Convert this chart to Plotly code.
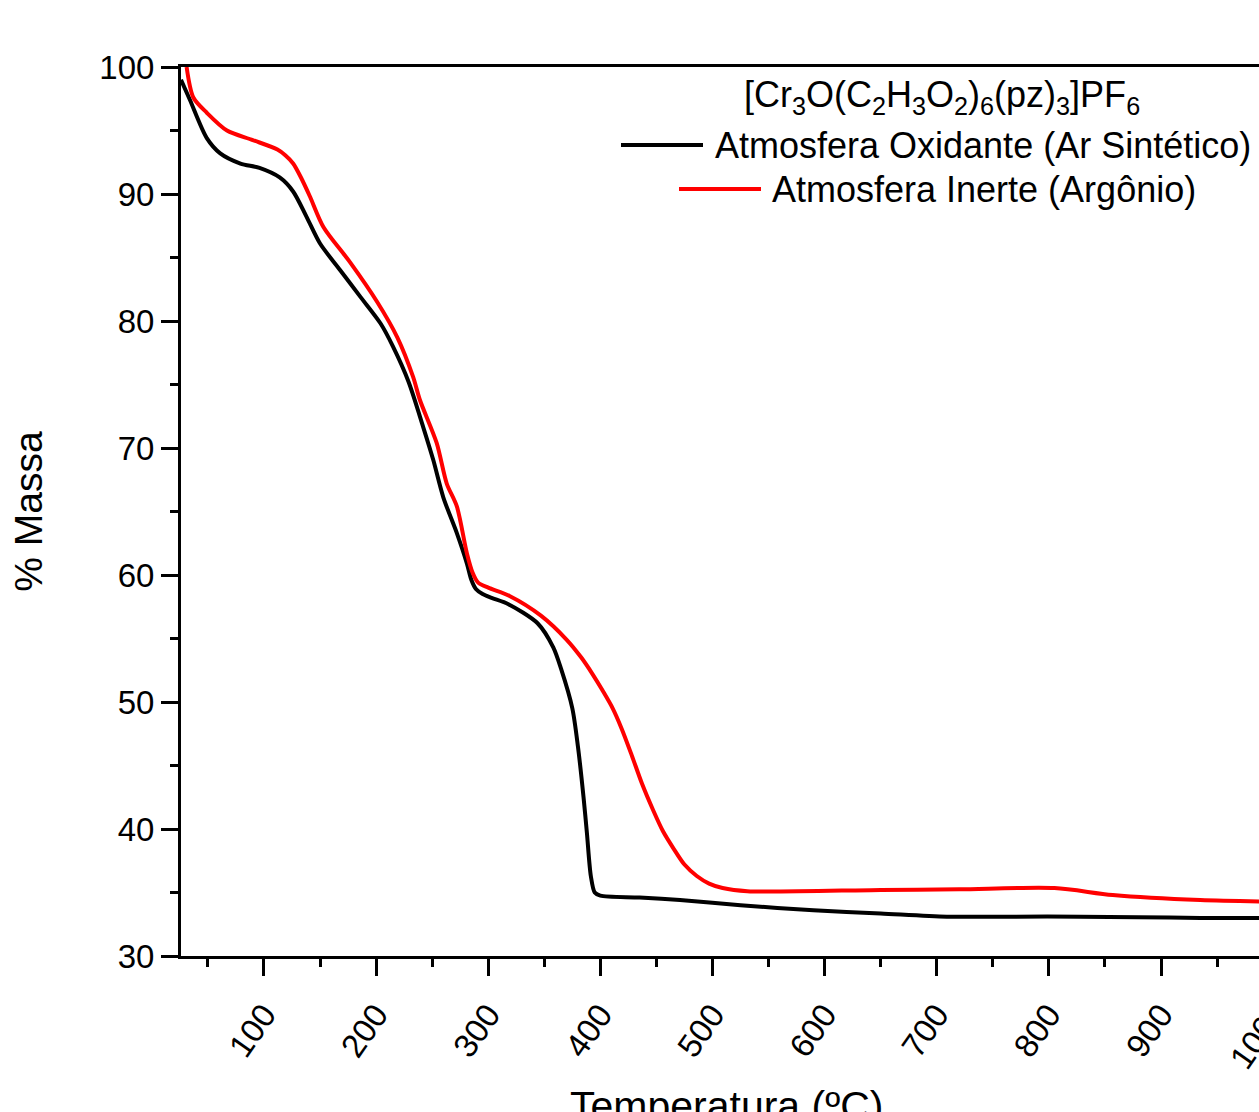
import plotly.graph_objects as go

# ---- data ----
temp_oxidante = [26, 34, 49, 61, 79, 96, 114, 126, 138, 150, 168, 186, 204, 215, 229,
                 242, 251, 260, 272, 281, 285, 289, 295, 303, 318, 344, 358, 365, 375,
                 380, 385, 388, 391.5, 395, 400, 435, 471, 525, 590, 650, 709, 770, 828,
                 880, 935, 988]
mass_oxidante = [99.0, 97.4, 94.4, 93.2, 92.4, 92.05, 91.3, 90.2, 88.2, 86.1, 84.0, 81.9,
                 79.8, 78.0, 75.2, 71.65, 69.05, 66.1, 63.3, 60.9, 59.6, 58.9, 58.5, 58.2,
                 57.7, 56.2, 54.3, 52.6, 49.5, 46.5, 42.5, 39.7, 36.3, 35.0, 34.75, 34.6,
                 34.4, 34.0, 33.6, 33.35, 33.1, 33.1, 33.1, 33.05, 33.0, 33.0]

temp_inerte = [31, 37, 49, 67, 90, 112, 119, 126, 133, 141, 153, 177, 201, 219, 233, 239,
               254, 263, 272, 281, 286, 291, 300, 319, 347, 370, 383, 393, 402, 411, 419,
               428, 437, 447, 456, 465, 475, 486, 497, 509, 531, 650, 720, 805, 857, 935,
               988]
mass_inerte = [100.0, 97.6, 96.4, 95.0, 94.25, 93.5, 93.05, 92.4, 91.3, 89.8, 87.4, 84.6,
               81.5, 78.7, 75.6, 73.8, 70.4, 67.2, 65.4, 61.7, 60.2, 59.4, 59.0, 58.35,
               56.8, 54.9, 53.5, 52.2, 50.9, 49.5, 47.9, 45.8, 43.6, 41.5, 39.8, 38.5,
               37.2, 36.3, 35.7, 35.35, 35.1, 35.2, 35.25, 35.35, 34.8, 34.4, 34.3]

series_names = ["Atmosfera Oxidante (Ar Sintético)", "Atmosfera Inerte (Argônio)"]
series_colors = ["#000000", "#ff0000"]
legend_title = ("[Cr<sub>3</sub>O(C<sub>2</sub>H<sub>3</sub>O<sub>2</sub>)<sub>6</sub>"
                "(pz)<sub>3</sub>]PF<sub>6</sub>")
x_title = "Temperatura (ºC)"
y_title = "% Massa"
extra_tick_label = "1000"

FONT = "Liberation Sans, Arial, sans-serif"

W, H = 1259, 1112
L, R, T, B = 181, 0, 67, 156
PW, PH = W - L - R, H - T - B


def px(x):
    return (x - L) / PW


def py(y):
    return (H - B - y) / PH


fig = go.Figure()
for t, m, name, col in [(temp_oxidante, mass_oxidante, series_names[0], series_colors[0]),
                        (temp_inerte, mass_inerte, series_names[1], series_colors[1])]:
    fig.add_trace(go.Scatter(x=t, y=m, mode="lines", name=name, showlegend=False,
                             line=dict(color=col, width=4, shape="spline", smoothing=0.8)))

fig.update_layout(
    width=W, height=H,
    margin=dict(l=L, r=R, t=T, b=B, autoexpand=False),
    plot_bgcolor="white", paper_bgcolor="white",
    font=dict(family=FONT, color="black"),
    showlegend=False,
)

fig.update_xaxes(
    range=[26, 987.4], showline=True, linewidth=3, linecolor="black", mirror=True,
    ticks="outside", ticklen=17, tickwidth=3, tickcolor="black",
    tick0=0, dtick=100, tickangle=-55, tickfont=dict(size=33, family=FONT),
    ticklabelstandoff=6,
    showgrid=False, zeroline=False, automargin=False,
    minor=dict(ticks="outside", ticklen=8, tickwidth=3, tickcolor="black",
               tick0=0, dtick=50, showgrid=False),
)
fig.update_yaxes(
    range=[30, 100], showline=True, linewidth=3, linecolor="black", mirror=False,
    ticks="outside", ticklen=17, tickwidth=3, tickcolor="black",
    tick0=0, dtick=10, tickfont=dict(size=33, family=FONT),
    showgrid=False, zeroline=False, automargin=False,
    minor=dict(ticks="outside", ticklen=8, tickwidth=3, tickcolor="black",
               tick0=0, dtick=5, showgrid=False),
    title=dict(text=y_title, font=dict(size=39, family=FONT), standoff=45),
)

# x-axis title: sits partly below the page edge in the original
fig.add_annotation(text=x_title, xref="paper", yref="paper", x=px(726), y=py(1081),
                   xanchor="center", yanchor="top", showarrow=False,
                   font=dict(size=41, family=FONT))

# legend (drawn manually to centre the entries like the original)
fig.add_annotation(text=legend_title, xref="paper", yref="paper", x=px(942), y=py(72),
                   xanchor="center", yanchor="top", showarrow=False,
                   font=dict(size=36, family=FONT))
fig.add_shape(type="line", xref="paper", yref="paper", x0=px(621), x1=px(703),
              y0=py(145), y1=py(145), line=dict(color=series_colors[0], width=4))
fig.add_shape(type="line", xref="paper", yref="paper", x0=px(679), x1=px(761),
              y0=py(189), y1=py(189), line=dict(color=series_colors[1], width=4))
fig.add_annotation(text=series_names[0], xref="paper", yref="paper", x=px(713), y=py(145),
                   xanchor="left", yanchor="middle", showarrow=False,
                   font=dict(size=36, family=FONT))
fig.add_annotation(text=series_names[1], xref="paper", yref="paper", x=px(770), y=py(189),
                   xanchor="left", yanchor="middle", showarrow=False,
                   font=dict(size=36, family=FONT))

# tick label of the 1000 °C tick, which lies just beyond the visible page edge
fig.add_annotation(text=extra_tick_label, xref="paper", yref="paper", x=px(1297), y=py(992),
                   xanchor="right", yanchor="top", showarrow=False, textangle=-55,
                   font=dict(size=33, family=FONT))

fig.write_html("out.html")
